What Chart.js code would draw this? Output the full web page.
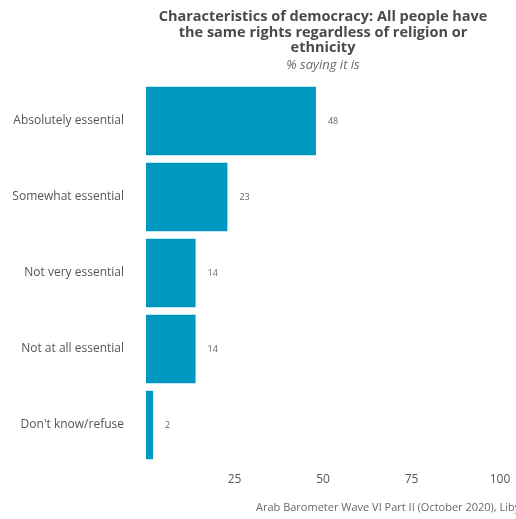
<!DOCTYPE html>
<html>
<head>
<meta charset="utf-8">
<script src="https://cdn.jsdelivr.net/npm/chart.js@4.4.0/dist/chart.umd.min.js"></script>
<style>
  html, body { margin: 0; padding: 0; background: #fff; }
  #wrap { width: 516px; height: 519px; position: relative; }
</style>
</head>
<body>
<div id="wrap"><canvas id="chart"></canvas></div>
<script>
// data
const categories = ['Absolutely essential', 'Somewhat essential', 'Not very essential', 'Not at all essential', "Don't know/refuse"];
const values = [48, 23, 14, 14, 2];
const xTicks = [25, 50, 75, 100];

const titleLines = ['Characteristics of democracy: All people have', 'the same rights regardless of religion or', 'ethnicity'];
const subtitle = '% saying it is';
const caption = 'Arab Barometer Wave VI Part II (October 2020), Libya';

const FONT = "'Open Sans', sans-serif";

// title, subtitle, caption and bar value labels
const textPlugin = {
    id: 'texts',
    afterDraw(chart) {
        const { ctx, chartArea } = chart;
        const cx = (chartArea.left + chartArea.right) / 2;
        ctx.save();
        ctx.textAlign = 'center';
        ctx.textBaseline = 'middle';
        ctx.fillStyle = '#4a4a4a';
        ctx.font = `bold 14.5px ${FONT}`;
        titleLines.forEach((line, i) => ctx.fillText(line, cx, 17 + i * 15.5));
        ctx.fillStyle = '#6a6a6a';
        ctx.font = `italic 13px ${FONT}`;
        ctx.fillText(subtitle, cx, 65);

        ctx.textAlign = 'left';
        ctx.font = `11px ${FONT}`;
        ctx.fillText(caption, 256, 508);

        // value labels next to bars
        ctx.fillStyle = '#666';
        ctx.font = `9px ${FONT}`;
        const meta = chart.getDatasetMeta(0);
        meta.data.forEach((bar, i) => {
            ctx.fillText(String(values[i]), bar.x + 12, bar.y);
        });
        ctx.restore();
    }
};

new Chart(document.getElementById('chart'), {
    type: 'bar',
    data: {
        labels: categories,
        datasets: [{
            data: values,
            backgroundColor: '#0098be',
            borderWidth: 0,
            barPercentage: 0.9,
            categoryPercentage: 1
        }]
    },
    options: {
        indexAxis: 'y',
        responsive: true,
        maintainAspectRatio: false,
        animation: false,
        layout: { padding: { top: 83, right: 16, left: 0, bottom: 26 } },
        scales: {
            x: {
                min: 0,
                max: 100,
                afterBuildTicks: (scale) => { scale.ticks = [0, ...xTicks].map(v => ({ value: v })); },
                grid: { display: false, drawTicks: false },
                border: { display: false },
                ticks: {
                    padding: 9,
                    color: '#555',
                    font: { family: FONT, size: 12 },
                    callback: (v) => (v === 0 ? '' : v)
                },
                afterFit: (scale) => {
                    scale.height = 30;
                    scale.paddingLeft = 0;
                    scale.paddingRight = 0;
                }
            },
            y: {
                grid: { display: false, drawTicks: false },
                border: { display: false },
                ticks: {
                    padding: 22,
                    color: '#555',
                    font: { family: FONT, size: 12 }
                },
                afterFit: (scale) => { scale.width = 146; }
            }
        },
        plugins: {
            legend: { display: false },
            tooltip: { enabled: false }
        }
    },
    plugins: [textPlugin]
});
</script>
</body>
</html>
